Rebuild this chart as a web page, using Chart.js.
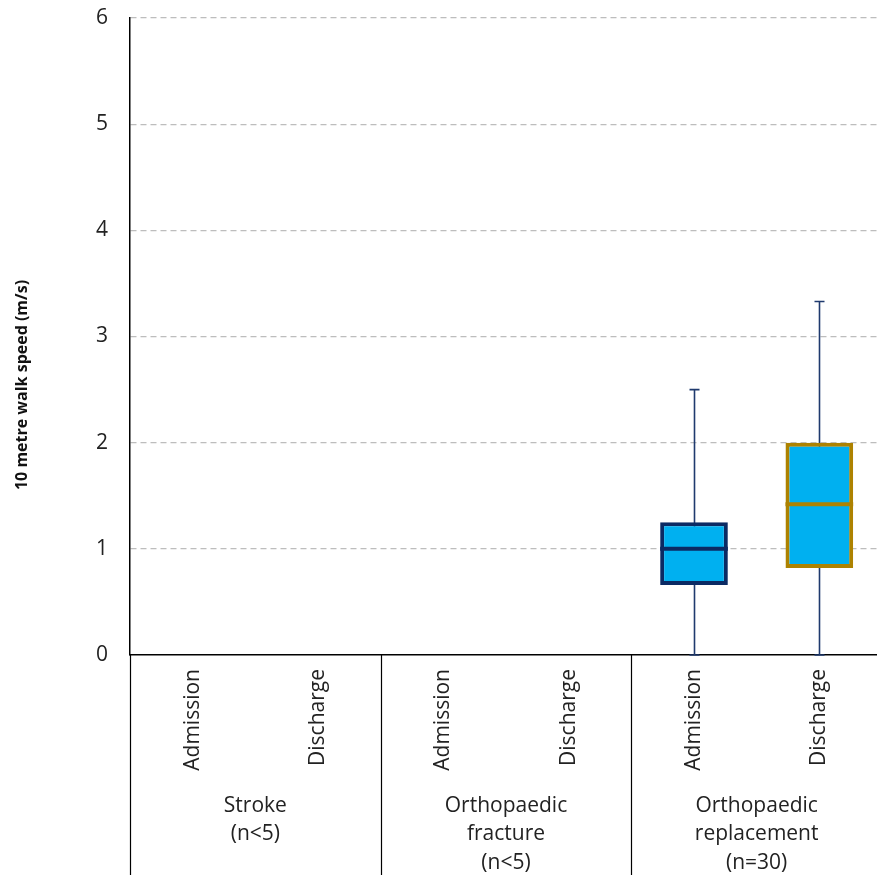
<!DOCTYPE html>
<html>
<head>
<meta charset="utf-8">
<script src="https://cdn.jsdelivr.net/npm/chart.js@4/dist/chart.umd.min.js"></script>
<style>
    html, body { margin: 0; padding: 0; background: #fff; overflow: hidden; }
    #wrap { width: 882px; height: 875px; position: relative; }
</style>
</head>
<body>
<div id="wrap"><canvas id="walkChart"></canvas></div>
<script>
// ==================== DATA ====================
const categories = ['Admission', 'Discharge', 'Admission', 'Discharge', 'Admission', 'Discharge'];
const groupLabels = [
    ['Stroke', '(n<5)'],
    ['Orthopaedic', 'fracture', '(n<5)'],
    ['Orthopaedic', 'replacement', '(n=30)']
];
const whiskerMin = [null, null, null, null, 0, 0];
const q1 = [null, null, null, null, 0.66, 0.82];
const median = [null, null, null, null, 1.0, 1.42];
const q3 = [null, null, null, null, 1.25, 2.0];
const whiskerMax = [null, null, null, null, 2.5, 3.33];
const yTicks = [0, 1, 2, 3, 4, 5, 6];
const yTitle = '10 metre walk speed (m/s)';

// ==================== STYLE ====================
const FONT = '"Open Sans", Lato, sans-serif';
const boxFill = '#00B0F0';
const boxBorders = ['#0B2A63', '#AD8200', '#0B2A63', '#AD8200', '#0B2A63', '#AD8200'];
const whiskerColor = '#1F3A6E';

// ==================== BOX PLOT EXTRAS ====================
const boxExtras = {
    id: 'boxExtras',
    beforeDatasetsDraw(chart) {
        const { ctx, scales: { x, y } } = chart;
        ctx.save();
        ctx.strokeStyle = whiskerColor;
        ctx.lineWidth = 1.6;
        categories.forEach((c, i) => {
            if (whiskerMin[i] === null) return;
            const px = Math.round(x.getPixelForValue(i)) + 0.5;
            const yMin = y.getPixelForValue(whiskerMin[i]);
            const yMax = y.getPixelForValue(whiskerMax[i]);
            ctx.beginPath();
            ctx.moveTo(px, yMin);
            ctx.lineTo(px, yMax);
            ctx.moveTo(px - 5, yMax);
            ctx.lineTo(px + 5, yMax);
            ctx.moveTo(px - 5, yMin);
            ctx.lineTo(px + 5, yMin);
            ctx.stroke();
        });
        ctx.restore();
    },
    afterDatasetsDraw(chart) {
        const { ctx, scales: { y } } = chart;
        const meta = chart.getDatasetMeta(0);
        ctx.save();
        ctx.lineWidth = 4;
        categories.forEach((c, i) => {
            if (median[i] === null) return;
            const bar = meta.data[i];
            const half = bar.width / 2;
            const my = y.getPixelForValue(median[i]);
            ctx.strokeStyle = boxBorders[i];
            ctx.beginPath();
            ctx.moveTo(bar.x - half, my);
            ctx.lineTo(bar.x + half, my);
            ctx.stroke();
        });
        ctx.restore();
    },
    afterDraw(chart) {
        const { ctx, chartArea, scales: { x } } = chart;
        const bottom = chart.height;
        ctx.save();
        // group separators and axis extension below the plot
        ctx.strokeStyle = '#000';
        ctx.lineWidth = 1.2;
        const seps = [chartArea.left];
        for (let g = 1; g < groupLabels.length; g++) {
            const i = g * 2;
            seps.push((x.getPixelForValue(i - 1) + x.getPixelForValue(i)) / 2);
        }
        seps.forEach(sx => {
            ctx.beginPath();
            ctx.moveTo(Math.round(sx) + 0.5, chartArea.bottom);
            ctx.lineTo(Math.round(sx) + 0.5, bottom);
            ctx.stroke();
        });

        // group labels
        ctx.fillStyle = '#222';
        ctx.font = '21px ' + FONT;
        ctx.textAlign = 'center';
        ctx.textBaseline = 'middle';
        groupLabels.forEach((lines, g) => {
            const gx = (x.getPixelForValue(g * 2) + x.getPixelForValue(g * 2 + 1)) / 2;
            lines.forEach((t, k) => {
                ctx.fillText(t, gx, 806 + k * 28.5);
            });
        });

        // y axis title
        ctx.translate(22, 385);
        ctx.rotate(-Math.PI / 2);
        ctx.font = 'bold 16px ' + FONT;
        ctx.fillStyle = '#111';
        ctx.fillText(yTitle, 0, 0);
        ctx.restore();
    }
};

// ==================== CHART ====================
const walkChart = new Chart(document.getElementById('walkChart'), {
    type: 'bar',
    data: {
        labels: categories,
        datasets: [{
            data: categories.map((c, i) => q1[i] === null ? null : [q1[i], q3[i]]),
            backgroundColor: boxFill,
            borderColor: boxBorders,
            borderWidth: 4,
            borderSkipped: false,
            categoryPercentage: 1,
            barPercentage: 0.54
        }]
    },
    options: {
        responsive: true,
        maintainAspectRatio: false,
        animation: false,
        layout: { padding: { top: 18, left: 0, right: 0, bottom: 0 } },
        plugins: {
            legend: { display: false },
            tooltip: { enabled: false }
        },
        scales: {
            x: {
                afterFit: (scale) => {
                    scale.height = 220;
                    scale.paddingLeft = 0;
                    scale.paddingRight = 0;
                },
                grid: { display: false, drawTicks: false },
                border: { display: true, color: '#000', width: 1.5 },
                ticks: {
                    autoSkip: false,
                    minRotation: 90,
                    maxRotation: 90,
                    padding: 14,
                    color: '#222',
                    font: { family: FONT, size: 21 }
                }
            },
            y: {
                min: 0,
                max: 6,
                afterFit: (scale) => {
                    scale.width = 130;
                    scale.paddingTop = 0;
                    scale.paddingBottom = 0;
                },
                afterBuildTicks: (scale) => { scale.ticks = yTicks.map(v => ({ value: v })); },
                grid: {
                    drawTicks: false,
                    color: (c) => c.tick.value === 0 ? 'rgba(0,0,0,0)' : '#BDBDBD',
                    lineWidth: 1.2
                },
                border: { display: true, color: '#000', width: 1.5, dash: [6, 4] },
                ticks: {
                    padding: 22,
                    color: '#222',
                    font: { family: FONT, size: 21 }
                }
            }
        }
    },
    plugins: [boxExtras]
});
</script>
</body>
</html>
